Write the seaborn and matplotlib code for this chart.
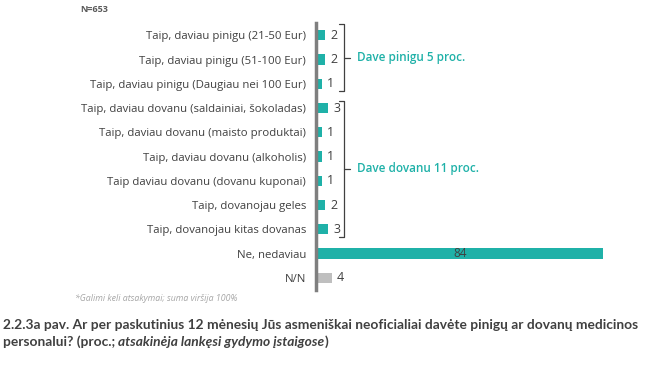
import numpy as np
import pandas as pd
import matplotlib.pyplot as plt
import seaborn as sns

# =========================================================
# DATA
# =========================================================
categories = [
    "Taip, daviau pinigu (21-50 Eur)",
    "Taip, daviau pinigu (51-100 Eur)",
    "Taip, daviau pinigu (Daugiau nei 100 Eur)",
    "Taip, daviau dovanu (saldainiai, šokoladas)",
    "Taip, daviau dovanu (maisto produktai)",
    "Taip, daviau dovanu (alkoholis)",
    "Taip daviau dovanu (dovanu kuponai)",
    "Taip, dovanojau geles",
    "Taip, dovanojau kitas dovanas",
    "Ne, nedaviau",
    "N/N",
]
values = [2, 2, 1, 3, 1, 1, 1, 2, 3, 84, 4]
bar_colors = ["#1fb1a8"] * 10 + ["#bfbfbf"]

group_labels = ["Dave pinigu 5 proc.", "Dave dovanu 11 proc."]
group_spans = [(-0.45, 2.3), (2.72, 8.3)]

sample_note = "N=653"
footnote = "*Galimi keli atsakymai; suma viršija 100%"
caption_1 = ("2.2.3a pav. Ar per paskutinius 12 mėnesių Jūs asmeniškai neoficialiai "
             "davėte pinigų ar dovanų medicinos")
caption_2a = "personalui? (proc.; "
caption_2b = "atsakinėja lankęsi gydymo įstaigose"
caption_2c = ")"

df = pd.DataFrame({"category": categories, "value": values})

# =========================================================
# PLOT
# =========================================================
sns.set_style("white")
plt.rcParams["font.family"] = ["Open Sans", "DejaVu Sans"]
cap_font = ["Lato", "DejaVu Sans"]

fig = plt.figure(figsize=(6.72, 3.67), dpi=100)
ax = fig.add_axes([0.470, 0.210, 0.427, 0.727])

sns.barplot(data=df, x="value", y="category", color=bar_colors[0],
            width=0.42, orient="h", ax=ax, saturation=1)
for patch, c in zip(ax.patches, bar_colors):
    patch.set_facecolor(c)
    patch.set_edgecolor("none")

ax.set_xlim(-0.7, 84)
ax.set_ylim(len(categories) - 0.5, -0.5)
ax.set_xlabel("")
ax.set_ylabel("")
ax.set_xticks([])

for s in ["top", "right", "bottom"]:
    ax.spines[s].set_visible(False)
ax.spines["left"].set_color("#7f7f7f")
ax.spines["left"].set_linewidth(2.5)

# tick marks sit between the categories
ax.set_yticks(np.arange(len(categories)))
ax.tick_params(axis="y", length=0, labelsize=8.2, labelcolor="#404040", pad=7)
ax.set_yticks(np.arange(-0.5, len(categories), 1), minor=True)
ax.tick_params(axis="y", which="minor", length=5, width=2.5, color="#7f7f7f")

# value labels
for i, v in enumerate(values):
    if v > 20:
        ax.text(v / 2, i, str(v), ha="center", va="center", fontsize=8.5, color="#404040")
    else:
        ax.text(v + 1.5, i, str(v), ha="left", va="center", fontsize=9, color="#404040")

# brackets with group labels
trans = ax.get_yaxis_transform()
for (top, bot), lab in zip(group_spans, group_labels):
    mid = (top + bot) / 2
    xb = 0.098
    ax.plot([xb - 0.016, xb, xb, xb - 0.016], [top, top, bot, bot],
            transform=trans, color="#404040", lw=0.9, clip_on=False)
    ax.plot([xb, xb + 0.02], [mid, mid], transform=trans,
            color="#404040", lw=0.9, clip_on=False)
    ax.text(xb + 0.046, mid, lab, transform=trans, ha="left", va="center",
            fontsize=8.5, color="#1fb1a8", fontweight="semibold")

fig.text(0.119, 0.975, sample_note, fontsize=6.5, color="#595959",
         fontweight="bold", ha="left", va="center")
fig.text(0.112, 0.187, footnote, fontsize=6.3, color="#a6a6a6",
         style="italic", ha="left", va="center")

cap_size = 9.9
fig.text(0.004, 0.114, caption_1, fontsize=cap_size, color="#404040",
         fontweight="bold", ha="left", va="center", family=cap_font)
t = fig.text(0.004, 0.068, caption_2a, fontsize=cap_size, color="#404040",
             fontweight="bold", ha="left", va="center", family=cap_font)
fig.canvas.draw()
x2 = t.get_window_extent().x1 / fig.bbox.width
t2 = fig.text(x2, 0.068, caption_2b, fontsize=cap_size, color="#404040",
              fontweight="bold", style="italic", ha="left", va="center",
              family=cap_font)
fig.canvas.draw()
x3 = t2.get_window_extent().x1 / fig.bbox.width
fig.text(x3, 0.068, caption_2c, fontsize=cap_size, color="#404040",
         fontweight="bold", ha="left", va="center", family=cap_font)

fig.savefig("out.png", dpi=100)
